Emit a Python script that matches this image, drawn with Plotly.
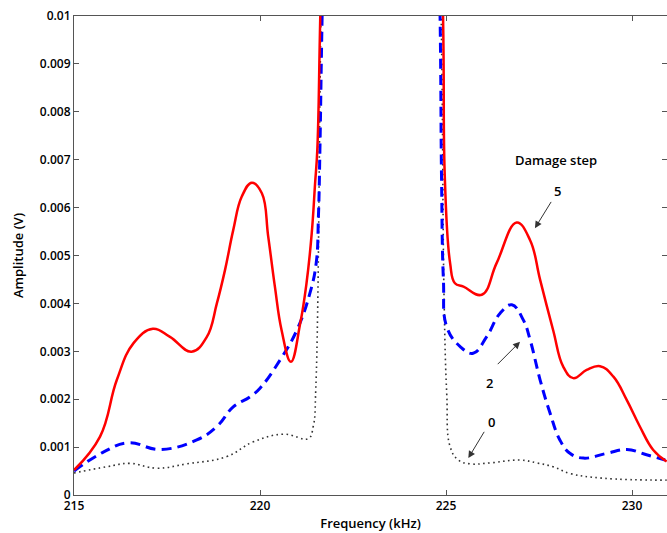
import plotly.graph_objects as go

# Damage step 5 (red, solid)
f5 = [215.0, 215.7, 216.15, 216.6, 217.12, 217.58, 218.16, 218.57, 218.84, 219.06, 219.28, 219.51, 219.78,
      220.05, 220.22, 220.4, 220.58, 220.83, 221.08, 221.25, 221.39, 221.48, 221.54, 221.62, 221.9, 223.3, 224.6,
      224.92, 224.97, 225.11, 225.24, 225.47, 225.96, 226.36, 226.9, 227.26, 227.53, 227.88, 228.15,
      228.42, 228.78, 229.14, 229.5, 229.86, 230.21, 230.57, 230.93]
a5 = [0.00052, 0.00122, 0.0024, 0.00317, 0.00347, 0.0033, 0.00299, 0.0033, 0.0040, 0.0047, 0.00553, 0.00623, 0.00652,
      0.0063, 0.0054, 0.00435, 0.00344, 0.00278, 0.00358, 0.00442, 0.00546, 0.0065, 0.0072, 0.0100, 0.02, 0.05, 0.02,
      0.0100, 0.00658, 0.00484, 0.00442, 0.00435, 0.00418, 0.00484, 0.00569, 0.00532, 0.00449, 0.00344, 0.00268,
      0.00244, 0.00261, 0.00269, 0.00247, 0.00198, 0.00143, 0.00094, 0.0007]

# Damage step 2 (blue, dashed)
f2 = [215.0, 215.8, 216.46, 217.31, 218.3, 218.84, 219.28, 219.73, 220.0, 220.54, 220.99, 221.34,
      221.51, 221.57, 221.61, 221.67, 221.95, 223.3, 224.6, 224.84, 224.88, 224.93, 225.02, 225.38, 225.73,
      226.09, 226.45, 226.77, 227.08, 227.26, 227.53, 227.8, 228.06, 228.33, 228.69, 229.32, 229.86, 230.39, 230.89]
a2 = [0.0005, 0.0009, 0.00109, 0.00095, 0.00115, 0.00143, 0.00184, 0.00205, 0.00223, 0.00282, 0.00344, 0.00421,
      0.00484, 0.00581, 0.0072, 0.0100, 0.02, 0.05, 0.02, 0.0100, 0.00658, 0.00449, 0.00351, 0.0031, 0.00296,
      0.0033, 0.00379, 0.00397, 0.00365, 0.00324, 0.0024, 0.0017, 0.00115, 0.00087, 0.00077, 0.00087, 0.00095,
      0.00084, 0.00073]

# Damage step 0 (gray, dotted)
f0 = [215.0, 215.88, 216.5, 217.22, 218.03, 219.1, 219.82, 220.63, 221.3, 221.43, 221.5, 221.64, 221.7,
      222.0, 223.3, 224.6, 224.87, 224.95, 225.02, 225.11, 225.33, 225.65, 226.18, 226.99, 227.44,
      227.88, 228.33, 229.23, 230.93]
a0 = [0.00046, 0.00059, 0.00066, 0.00056, 0.00065, 0.0008, 0.00111, 0.00127, 0.00118, 0.00143, 0.00223, 0.0100, 0.012,
      0.02, 0.05, 0.02, 0.0100, 0.0040, 0.0021, 0.00101, 0.00073, 0.00065, 0.00067, 0.00073, 0.00067,
      0.00059, 0.00045, 0.00035, 0.00031]

y_ticks = [0, 0.001, 0.002, 0.003, 0.004, 0.005, 0.006, 0.007, 0.008, 0.009, 0.01]
y_labels = ["0", "0.001", "0.002", "0.003", "0.004", "0.005", "0.006", "0.007", "0.008", "0.009", "0.01"]
x_ticks = [215, 220, 225, 230]

fig = go.Figure()
fig.add_trace(go.Scatter(x=f0, y=a0, mode="lines",
                         line=dict(color="#333333", width=1.6, dash="1.6px,3.4px", shape="spline", smoothing=1.2)))
fig.add_trace(go.Scatter(x=f2, y=a2, mode="lines",
                         line=dict(color="#0000ff", width=3, dash="10px,6px", shape="spline", smoothing=1.2)))
fig.add_trace(go.Scatter(x=f5, y=a5, mode="lines",
                         line=dict(color="#ff0000", width=2.5, shape="spline", smoothing=1.2)))

fam = "Open Sans, Lato, sans-serif"
font = dict(family=fam, size=12, color="black", weight=600)
afont = dict(family=fam, size=13, color="black", weight=600)

ann = [
    dict(x=227.96, y=0.00699, text="Damage step", showarrow=False, font=afont),
    dict(x=228.0, y=0.00635, text="5", showarrow=False, font=afont),
    dict(x=227.39, y=0.00557, ax=227.85, ay=0.00615, axref="x", ayref="y", text="", showarrow=True,
         arrowhead=2, arrowsize=1.4, arrowwidth=1, arrowcolor="#333333"),
    dict(x=226.18, y=0.00233, text="2", showarrow=False, font=afont),
    dict(x=226.99, y=0.0032, ax=226.35, ay=0.0027, axref="x", ayref="y", text="", showarrow=True,
         arrowhead=2, arrowsize=1.4, arrowwidth=1, arrowcolor="#333333"),
    dict(x=226.21, y=0.00153, text="0", showarrow=False, font=afont),
    dict(x=225.6, y=0.00077, ax=226.05, ay=0.00135, axref="x", ayref="y", text="", showarrow=True,
         arrowhead=2, arrowsize=1.4, arrowwidth=1, arrowcolor="#333333"),
]

fig.update_layout(
    width=667, height=533,
    margin=dict(l=74, r=0, t=16, b=38),
    paper_bgcolor="white", plot_bgcolor="white",
    showlegend=False,
    font=font,
    annotations=ann,
    xaxis=dict(range=[215, 230.94], tickvals=x_ticks, ticks="inside", ticklen=5, tickcolor="#555555",
               showline=True, linecolor="#555555", linewidth=1, mirror="ticks", showgrid=False, zeroline=False,
               automargin=False,
               title=dict(text="Frequency (kHz)", standoff=5, font=afont),
               tickfont=font),
    yaxis=dict(range=[0, 0.01], tickvals=y_ticks, ticktext=y_labels, ticks="inside", ticklen=5,
               tickcolor="#555555", showline=True, linecolor="#555555", linewidth=1, mirror="ticks",
               showgrid=False, zeroline=False, automargin=False,
               title=dict(text="Amplitude (V)", standoff=13, font=afont),
               tickfont=font),
)

fig.write_html("out.html", config={"displayModeBar": False},
               post_script="document.body.style.margin='0';document.body.style.overflow='hidden';")
